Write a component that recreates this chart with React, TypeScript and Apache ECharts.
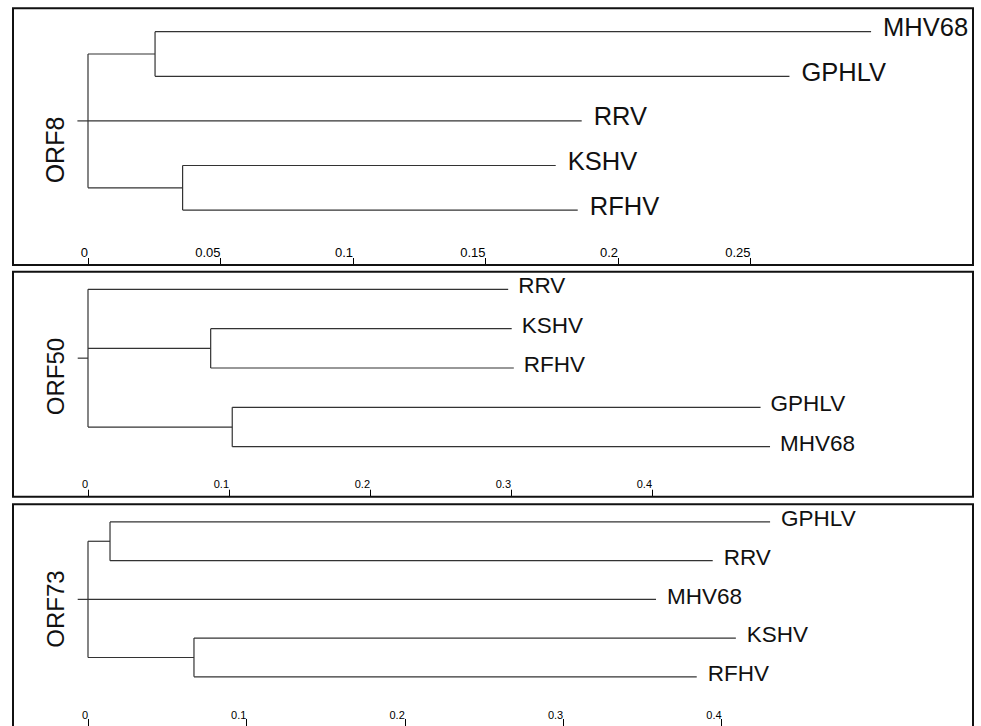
import React, { useEffect, useRef } from "react";
import * as echarts from "echarts";

// ---- data ----
const orf8Names = ["MHV68", "GPHLV", "RRV", "KSHV", "RFHV"];
const orf8Tips = [0.2955, 0.2647, 0.1863, 0.1765, 0.1848];
const orf8Groups = [[0, 1], [2], [3, 4]];
const orf8Nodes = [0.0253, 0, 0.0357];
const orf8Stem = -0.004;
const orf8Ticks = [0, 0.05, 0.1, 0.15, 0.2, 0.25];

const orf50Names = ["RRV", "KSHV", "RFHV", "GPHLV", "MHV68"];
const orf50Tips = [0.298, 0.3005, 0.302, 0.477, 0.4837];
const orf50Groups = [[0], [1, 2], [3, 4]];
const orf50Nodes = [0, 0.087, 0.1023];
const orf50Stem = -0.0073;
const orf50Ticks = [0, 0.1, 0.2, 0.3, 0.4];

const orf73Names = ["GPHLV", "RRV", "MHV68", "KSHV", "RFHV"];
const orf73Tips = [0.4306, 0.3944, 0.3586, 0.409, 0.3843];
const orf73Groups = [[0, 1], [2], [3, 4]];
const orf73Nodes = [0.0139, 0, 0.0669];
const orf73Stem = -0.0065;
const orf73Ticks = [0, 0.1, 0.2, 0.3, 0.4];

const FONT = "'Liberation Sans', Arial, Helvetica, sans-serif";

function branches(tips: number[], groups: number[][], nodes: number[], stem: number) {
  const segs: number[][] = [];
  const gy = groups.map((g) => g.reduce((a, b) => a + b, 0) / g.length);
  const y0 = gy[0];
  const y1 = gy[gy.length - 1];
  const ym = (y0 + y1) / 2;
  segs.push([stem, ym, 0, ym]);
  segs.push([0, y0, 0, y1]);
  groups.forEach((g, k) => {
    if (g.length === 1) {
      segs.push([0, g[0], tips[g[0]], g[0]]);
      return;
    }
    const h = nodes[k];
    segs.push([0, gy[k], h, gy[k]]);
    segs.push([h, g[0], h, g[g.length - 1]]);
    g.forEach((i) => segs.push([h, i, tips[i], i]));
  });
  return segs;
}

// layout: top = y of first leaf, axisY = y of the axis (panel bottom), step = px between leaves
const panels = [
  {
    title: "ORF8", names: orf8Names, tips: orf8Tips, groups: orf8Groups, nodes: orf8Nodes, stem: orf8Stem, ticks: orf8Ticks,
    top: 31.7, axisY: 265, step: 44.6, ppu: 2650, labelFont: 25.5, tickFont: 13, margin: 6, gap: 12, dy: -4.5,
    box: [13, 8.3, 960, 256.7], titlePos: [55, 150], titleFont: 25,
  },
  {
    title: "ORF50", names: orf50Names, tips: orf50Tips, groups: orf50Groups, nodes: orf50Nodes, stem: orf50Stem, ticks: orf50Ticks,
    top: 289.3, axisY: 496.7, step: 39.35, ppu: 1410, labelFont: 22.5, tickFont: 11, margin: 7, gap: 10, dy: -3.5,
    box: [13, 271.7, 960, 225], titlePos: [55, 376.6], titleFont: 24,
  },
  {
    title: "ORF73", names: orf73Names, tips: orf73Tips, groups: orf73Groups, nodes: orf73Nodes, stem: orf73Stem, ticks: orf73Ticks,
    top: 521.9, axisY: 729.5, step: 39.4, ppu: 1584, labelFont: 22.5, tickFont: 11, margin: 6, gap: 11, dy: -3.2,
    box: [13, 504.3, 960, 225.2], titlePos: [55, 609], titleFont: 24,
  },
];

export default function App() {
  const ref = useRef<HTMLDivElement>(null);
  useEffect(() => {
    if (!ref.current) return;
    const chart = echarts.init(ref.current, undefined, { renderer: "svg" });
    const grids: any[] = [];
    const xAxes: any[] = [];
    const yAxes: any[] = [];
    const series: any[] = [];
    const graphics: any[] = [];
    panels.forEach((p, i) => {
      const interval = p.ticks[1] - p.ticks[0];
      const max = p.ticks[p.ticks.length - 1] + interval * 0.6;
      const h = p.axisY - p.top;
      grids.push({ left: 88, top: p.top, width: max * p.ppu, height: h, containLabel: false });
      xAxes.push({
        type: "value", gridIndex: i, min: 0, max, interval, position: "bottom",
        axisLine: { show: false, onZero: false }, splitLine: { show: false },
        axisTick: { show: true, inside: true, length: 7, lineStyle: { color: "#000", width: 1 } },
        axisLabel: {
          inside: true, margin: p.margin, fontSize: p.tickFont, color: "#000", fontFamily: FONT,
          showMaxLabel: false, align: "right", padding: [0, 0, 0, 0],
        },
      });
      yAxes.push({ type: "value", gridIndex: i, min: 0, max: h / p.step, inverse: true, show: false });
      series.push({
        type: "custom", xAxisIndex: i, yAxisIndex: i, clip: false,
        data: branches(p.tips, p.groups, p.nodes, p.stem),
        encode: { x: [0, 2], y: [1, 3] },
        renderItem: (params: any, api: any) => {
          const a = api.coord([api.value(0), api.value(1)]);
          const b = api.coord([api.value(2), api.value(3)]);
          return {
            type: "line",
            shape: { x1: a[0], y1: a[1], x2: b[0], y2: b[1] },
            style: { stroke: "#333", lineWidth: 1.2 },
          };
        },
      });
      series.push({
        type: "custom", xAxisIndex: i, yAxisIndex: i, clip: false,
        data: p.tips.map((t, k) => [t, k]),
        encode: { x: 0, y: 1 },
        renderItem: (params: any, api: any) => {
          const c = api.coord([api.value(0), api.value(1)]);
          return {
            type: "text",
            x: c[0] + p.gap,
            y: c[1] + p.dy,
            style: {
              text: p.names[params.dataIndex],
              fontSize: p.labelFont,
              fontFamily: FONT,
              fill: "#111",
              align: "left",
              verticalAlign: "middle",
            },
          };
        },
      });
      graphics.push({
        type: "rect",
        shape: { x: p.box[0], y: p.box[1], width: p.box[2], height: p.box[3] },
        style: { fill: "none", stroke: "#111", lineWidth: 2 },
        z: 10,
      });
      graphics.push({
        type: "text",
        x: p.titlePos[0],
        y: p.titlePos[1],
        rotation: Math.PI / 2,
        style: {
          text: p.title, fontSize: p.titleFont, fontFamily: FONT, fill: "#111",
          align: "center", verticalAlign: "middle",
        },
      });
    });
    chart.setOption({
      animation: false,
      backgroundColor: "#fff",
      grid: grids,
      xAxis: xAxes,
      yAxis: yAxes,
      series,
      graphic: graphics,
    });
    return () => chart.dispose();
  }, []);
  return (
    <div
      ref={ref}
      style={{ position: "absolute", left: 0, top: 0, width: 981, height: 726, background: "#fff" }}
    />
  );
}
